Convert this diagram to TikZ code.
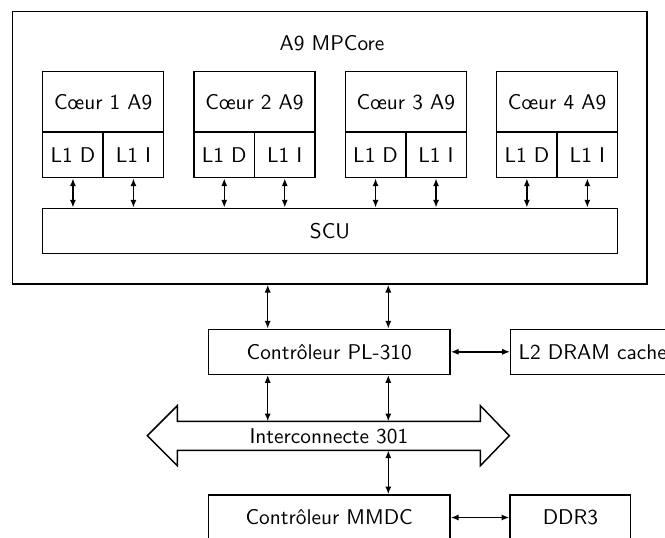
\documentclass[tikz,border=0pt]{standalone}
\usepackage{fontspec}
\usetikzlibrary{arrows.meta,calc}
\begin{document}
\begin{tikzpicture}[x=0.488pt,y=-0.488pt,
  font=\sffamily\fontsize{10.4}{12}\selectfont,
  bx/.style={draw,line width=0.7pt,inner sep=0pt,minimum width=#1*0.488pt},
  bx/.default=121,
  arr/.style={line width=0.7pt,{Latex[length=3.8pt,width=3pt]}-{Latex[length=3.8pt,width=3pt]}}]
\useasboundingbox (0,0) rectangle (665,537);
% outer MPCore box
\node[draw,line width=0.7pt,minimum width=634.3*0.488pt,minimum height=272.3*0.488pt,inner sep=0pt] (mp) at (329.85,147.85) {};
\node (title) at (332,43) {A9 MPCore};
% cores
\foreach \k in {0,1,2,3}{
  \pgfmathsetmacro{\xo}{42.7+151.3*\k}
  \pgfmathtruncatemacro{\n}{\k+1}
  \node[bx=121,minimum height=60.3*0.488pt] (core\n) at (\xo+60.5,101.85) {Cœur \n\ A9};
  \node[bx=60.5,minimum height=45.7*0.488pt] (d\n) at (\xo+30.25,154.85) {L1 D};
  \node[bx=60.5,minimum height=45.7*0.488pt] (i\n) at (\xo+90.75,154.85) {L1 I};
}
\node[bx=574.6,minimum height=45*0.488pt] (scu) at (330,230.8) {SCU};
\foreach \n in {1,2,3,4}{
  \draw[arr] (d\n.south) -- (d\n.south |- scu.north);
  \draw[arr] (i\n.south) -- (i\n.south |- scu.north);
}
% PL-310 and L2
\node[bx=241.7,minimum height=45*0.488pt] (pl) at (329.2,351.8) {Contrôleur PL-310};
\node[bx=164,minimum height=45*0.488pt,anchor=west] (l2) at (510,351.8) {L2 DRAM cache};
\coordinate (xa) at (267.7,0);
\coordinate (xb) at (388.3,0);
\draw[arr] (mp.south -| xa) -- (pl.north -| xa);
\draw[arr] (mp.south -| xb) -- (pl.north -| xb);
\draw[arr] (pl.east) -- (l2.west);
% interconnect
\node[inner sep=0pt,minimum width=302.3*0.488pt,minimum height=28.3*0.488pt] (ic) at (328.85,435.85) {Interconnecte 301};
\coordinate (tl) at (147.3,435.7);
\coordinate (tr) at (509.3,435.7);
\draw[line width=0.7pt,line join=miter] (tl) -- (ic.west |- 0,405.7) -- (ic.north west) -- (ic.north east)
  -- (ic.east |- 0,405.7) -- (tr) -- (ic.east |- 0,465.7) -- (ic.south east) -- (ic.south west)
  -- (ic.west |- 0,465.7) -- cycle;
\draw[arr] (pl.south -| xa) -- (ic.north -| xa);
\draw[arr] (pl.south -| xb) -- (ic.north -| xb);
% MMDC and DDR3
\node[bx=241.7,minimum height=45*0.488pt] (mm) at (329.2,517.5) {Contrôleur MMDC};
\node[bx=120.7,minimum height=45*0.488pt] (ddr) at (570.35,517.5) {DDR3};
\draw[arr] (ic.south -| xb) -- (mm.north -| xb);
\draw[arr] (mm.east) -- (ddr.west);
\end{tikzpicture}
\end{document}
